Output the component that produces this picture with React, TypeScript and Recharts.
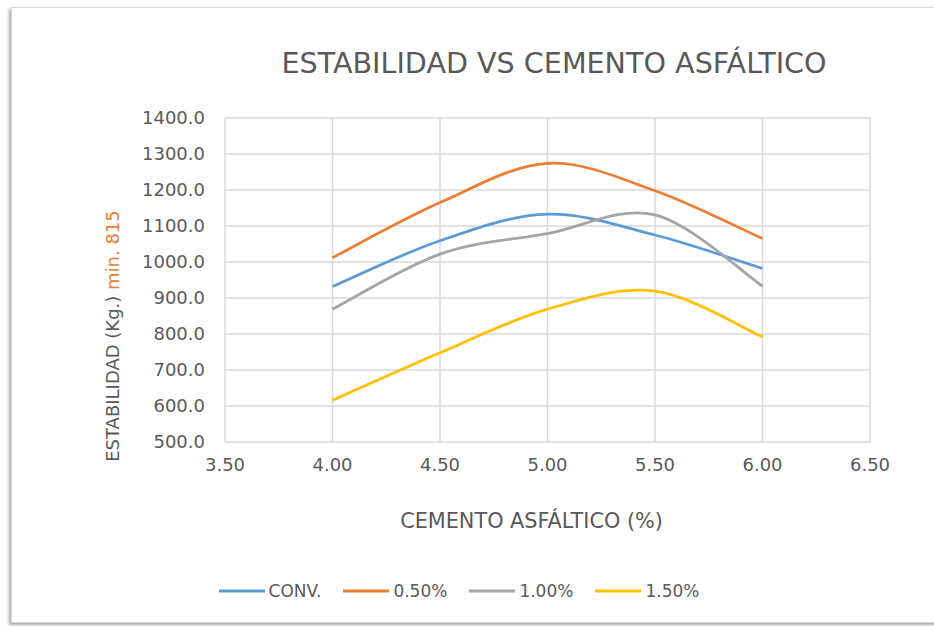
import React from 'react';
import { LineChart, Line, XAxis, YAxis, CartesianGrid, Legend } from 'recharts';

const xValues = [4.0, 4.5, 5.0, 5.5, 6.0];
const conv = [932, 1059, 1133, 1075, 982];
const p050 = [1012, 1165, 1274, 1198, 1065];
const p100 = [869, 1022, 1079, 1131, 933];
const p150 = [616, 748, 869, 919, 792];
const xTicks = [3.5, 4.0, 4.5, 5.0, 5.5, 6.0, 6.5];
const yTicks = [500, 600, 700, 800, 900, 1000, 1100, 1200, 1300, 1400];

const seriesNames = ['CONV.', '0.50%', '1.00%', '1.50%'];
const colors = ['#5B9BD5', '#ED7D31', '#A5A5A5', '#FFC000'];

const data = xValues.map((x, i) => ({
  x,
  conv: conv[i],
  p050: p050[i],
  p100: p100[i],
  p150: p150[i],
}));

const FONT = '"DejaVu Sans", sans-serif';
const TXT = '#595959';

// Excel-like smoothing (uniform Catmull-Rom as cubic Bezier)
function excelSmooth(context: any) {
  let pts: number[][] = [];
  return {
    areaStart() {},
    areaEnd() {},
    lineStart() {
      pts = [];
    },
    lineEnd() {
      const n = pts.length;
      if (n === 0) return;
      context.moveTo(pts[0][0], pts[0][1]);
      if (n === 1) return;
      for (let i = 0; i < n - 1; i++) {
        const p0 = pts[i - 1] || pts[i];
        const p1 = pts[i];
        const p2 = pts[i + 1];
        const p3 = pts[i + 2] || pts[i + 1];
        const c1x = p1[0] + (p2[0] - p0[0]) / 6;
        const c1y = p1[1] + (p2[1] - p0[1]) / 6;
        const c2x = p2[0] - (p3[0] - p1[0]) / 6;
        const c2y = p2[1] - (p3[1] - p1[1]) / 6;
        context.bezierCurveTo(c1x, c1y, c2x, c2y, p2[0], p2[1]);
      }
    },
    point(x: number, y: number) {
      pts.push([+x, +y]);
    },
  };
}

const YLabel = () => {
  const cx = 119;
  const cy = 336;
  return (
    <text
      x={cx}
      y={cy}
      transform={`rotate(-90, ${cx}, ${cy})`}
      textAnchor="middle"
      fontFamily={FONT}
      fontSize={18}
    >
      <tspan fill={TXT}>ESTABILIDAD (Kg.) </tspan>
      <tspan fill="#ED7D31">min. 815</tspan>
    </text>
  );
};

const XLabel = () => (
  <text x={531.5} y={528} textAnchor="middle" fontFamily={FONT} fontSize={20.8} fill={TXT}>
    CEMENTO ASFÁLTICO (%)
  </text>
);

const LegendContent = (props: any) => {
  const payload = [...(props.payload || [])].sort(
    (a: any, b: any) => seriesNames.indexOf(a.value) - seriesNames.indexOf(b.value)
  );
  return (
    <div
      style={{
        display: 'flex',
        justifyContent: 'center',
        alignItems: 'center',
        fontFamily: FONT,
        fontSize: 17,
        color: TXT,
        gap: 22,
        paddingRight: 16,
      }}
    >
      {payload.map((p: any, i: number) => (
        <div key={i} style={{ display: 'flex', alignItems: 'center' }}>
          <svg width={46} height={10} style={{ marginRight: 4 }}>
            <line x1={0} y1={5} x2={46} y2={5} stroke={p.color} strokeWidth={3} />
          </svg>
          <span>{p.value}</span>
        </div>
      ))}
    </div>
  );
};

export default function App() {
  return (
    <div style={{ position: 'absolute', left: 0, top: 0, width: 934, height: 626, background: '#fff', overflow: 'hidden' }}>
      <div
        style={{
          position: 'absolute',
          left: 11,
          top: 7,
          width: 940,
          height: 614,
          border: '1px solid #d9d9d9',
          boxShadow: '-2px 2px 3px rgba(0,0,0,0.35)',
          background: '#fff',
        }}
      />
      <svg style={{ position: 'absolute', left: 0, top: 0 }} width={934} height={100}>
        <text x={554} y={73} textAnchor="middle" fontFamily={FONT} fontSize={28.6} fill={TXT}>
          ESTABILIDAD VS CEMENTO ASFÁLTICO
        </text>
      </svg>
      <div style={{ position: 'absolute', left: 0, top: 0 }}>
        <LineChart
          width={934}
          height={626}
          data={data}
          margin={{ top: 118, right: 64, bottom: 120, left: 125 }}
        >
          <CartesianGrid stroke="#D9D9D9" strokeWidth={1.5} horizontalValues={yTicks} verticalValues={xTicks} />
          <XAxis
            dataKey="x"
            type="number"
            domain={[3.5, 6.5]}
            ticks={xTicks}
            tickFormatter={(v: number) => v.toFixed(2)}
            axisLine={false}
            tickLine={false}
            tickMargin={10}
            height={40}
            tick={{ fill: TXT, fontFamily: FONT, fontSize: 18 }}
            label={<XLabel />}
          />
          <YAxis
            type="number"
            domain={[500, 1400]}
            ticks={yTicks}
            tickFormatter={(v: number) => v.toFixed(1)}
            axisLine={false}
            tickLine={false}
            tickMargin={14}
            width={100}
            tick={{ fill: TXT, fontFamily: FONT, fontSize: 18 }}
            label={<YLabel />}
          />
          <Legend
            content={<LegendContent />}
            wrapperStyle={{ position: 'absolute', top: 581, left: 0, width: 934, height: 24 }}
          />
          <Line dataKey="conv" name={seriesNames[0]} stroke={colors[0]} strokeWidth={2.75} dot={false} type={excelSmooth as any} isAnimationActive={false} />
          <Line dataKey="p050" name={seriesNames[1]} stroke={colors[1]} strokeWidth={2.75} dot={false} type={excelSmooth as any} isAnimationActive={false} />
          <Line dataKey="p100" name={seriesNames[2]} stroke={colors[2]} strokeWidth={2.75} dot={false} type={excelSmooth as any} isAnimationActive={false} />
          <Line dataKey="p150" name={seriesNames[3]} stroke={colors[3]} strokeWidth={2.75} dot={false} type={excelSmooth as any} isAnimationActive={false} />
        </LineChart>
      </div>
    </div>
  );
}
